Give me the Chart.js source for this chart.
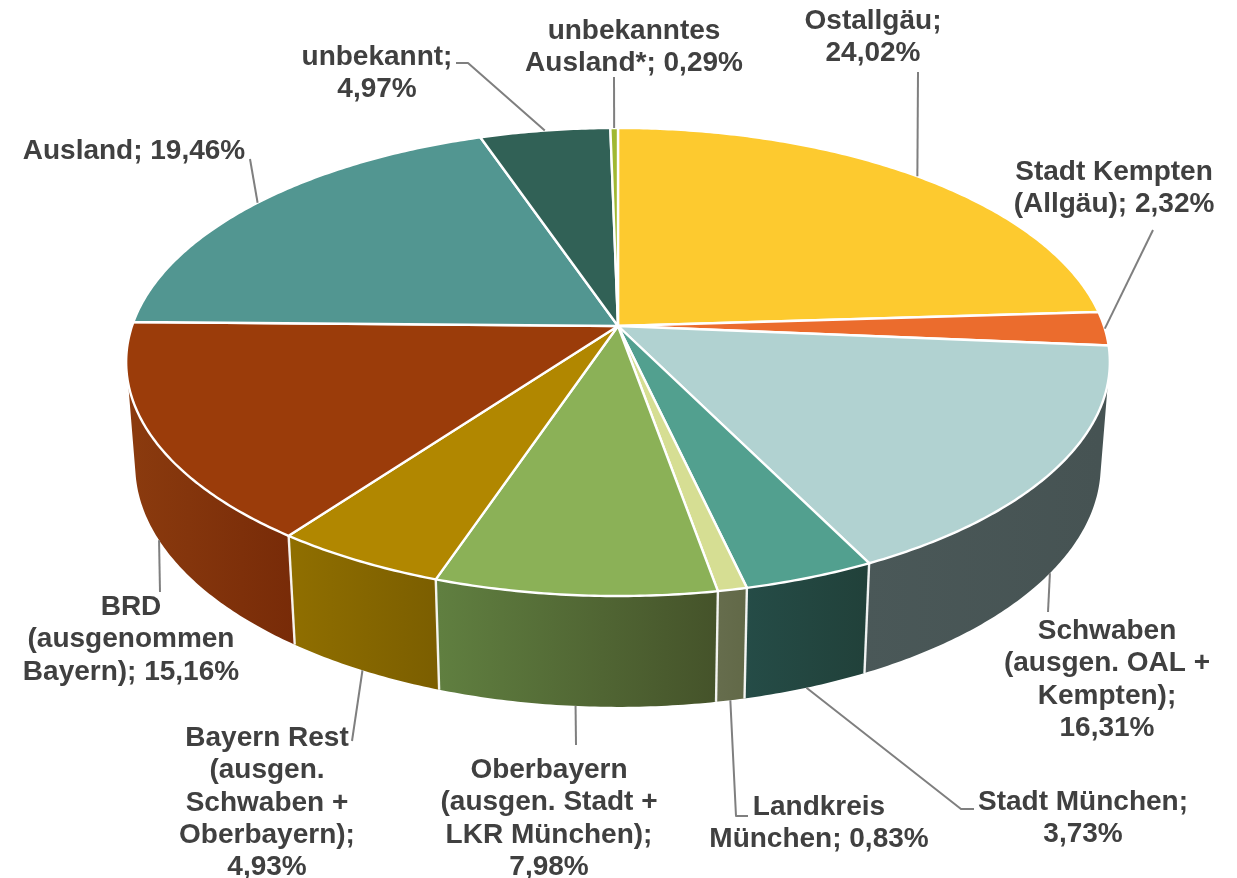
<!DOCTYPE html>
<html lang="de">
<head>
<meta charset="utf-8">
<title>Herkunft</title>
<script src="https://cdn.jsdelivr.net/npm/chart.js@4"></script>
<style>html,body{margin:0;padding:0;background:#fff}canvas{display:block}</style>
</head>
<body>
<canvas id="c" width="1237" height="878"></canvas>
<script>
const categories = ["Ostallgäu","Stadt Kempten (Allgäu)","Schwaben (ausgen. OAL + Kempten)","Stadt München","Landkreis München","Oberbayern (ausgen. Stadt + LKR München)","Bayern Rest (ausgen. Schwaben + Oberbayern)","BRD (ausgenommen Bayern)","Ausland","unbekannt","unbekanntes Ausland*"];
const shares = [24.02,2.32,16.31,3.73,0.83,7.98,4.93,15.16,19.46,4.97,0.29];
const labelLines = [
  ["Ostallgäu;","%"],
  ["Stadt Kempten","(Allgäu); %"],
  ["Schwaben","(ausgen. OAL +","Kempten);","%"],
  ["Stadt München;","%"],
  ["Landkreis","München; %"],
  ["Oberbayern","(ausgen. Stadt +","LKR München);","%"],
  ["Bayern Rest","(ausgen.","Schwaben +","Oberbayern);","%"],
  ["BRD","(ausgenommen","Bayern); %"],
  ["Ausland; %"],
  ["unbekannt;","%"],
  ["unbekanntes","Ausland*; %"]
];
const topColors = ["#FDCA2F","#EB6C2D","#B1D2D1","#52A08F","#D6DE93","#8BB157","#B18700","#9B3C0A","#529691","#316156","#A0B832"];
const wallFrom = ["#B8931F","#A84C1F","#4A5858","#254C47","#666D4D","#607F40","#8F6E00","#8A3A0E","#3A6B68","#23463E","#73852A"];
const wallTo   = ["#B8931F","#A84C1F","#465353","#21413A","#626948","#45532A","#7B5E00","#782B08","#3A6B68","#23463E","#73852A"];

const layoutLabels = [
  {x:873,y:21.5},{x:1114,y:172.5},{x:1107,y:631.5},{x:1083,y:802.5},{x:819,y:807.5},{x:549,y:770.5},
  {x:267,y:738.5},{x:131,y:607.5},{x:134,y:151.5},{x:377,y:57.5},{x:634,y:31.5}
];
const lineStep = 32.2;
const leaderElbows = [
  [[918,72]],
  [[1153,230]],
  [[1048,612]],
  [[961,809],[974,809]],
  [[736,816],[748,816]],
  [[576,745]],
  [[352,741]],
  [[160,592]],
  [[250,159]],
  [[468,63],[456,63]],
  [[614,77]]
];
const P = {cx:618, cy:326, a:486, b:228.5, k:-0.1538, a2:477, y2:428, b2:236, tangentTop:0.24, tangentBottom:0.2};

function project(theta, bottom){
  const u = Math.cos(theta), v = Math.sin(theta), w = 1 + P.k*v;
  return bottom ? [P.cx + P.a2*u/w, P.y2 + P.b2*v/w] : [P.cx + P.a*u/w, P.cy + P.b*v/w];
}
function arcPoints(s, e, bottom){
  if (e <= s) return [];
  const n = Math.max(2, Math.ceil((e-s)/0.01)), pts = [];
  for(let i=0;i<=n;i++) pts.push(project(s+(e-s)*i/n, bottom));
  return pts;
}
function trace(ctx, pts){ ctx.beginPath(); pts.forEach((p,i)=> i?ctx.lineTo(p[0],p[1]):ctx.moveTo(p[0],p[1])); }
// restrict an arc to the front part of the rim, between its two silhouette tangent points
function frontClamp(s, e, vMin){
  const a0 = Math.asin(vMin), a1 = Math.PI - a0;
  return [Math.max(s,a0), Math.min(e,a1)];
}

const perspectivePie = {
  id:'perspectivePie',
  beforeDatasetsDraw(chart){
    const ctx = chart.ctx, arcs = chart.getDatasetMeta(0).data;
    ctx.save();
    // walls
    arcs.forEach((arc,i)=>{
      const {startAngle:s,endAngle:e} = arc.getProps(['startAngle','endAngle'],true);
      const [ts,te] = frontClamp(s,e,P.tangentTop), [bs,be] = frontClamp(s,e,P.tangentBottom);
      if (be <= bs) return;
      const t = arcPoints(ts,te,false), b = arcPoints(bs,be,true);
      if (!t.length) t.push(project(Math.min(Math.max(s,Math.asin(P.tangentTop)),Math.PI-Math.asin(P.tangentTop)),false));
      const xs = arcPoints(s,e,true).map(p=>p[0]);
      const g = ctx.createLinearGradient(Math.min(...xs),0,Math.max(...xs),0);
      g.addColorStop(0,wallFrom[i]); g.addColorStop(1,wallTo[i]);
      trace(ctx,t.concat(b.reverse())); ctx.closePath();
      ctx.fillStyle = g; ctx.fill();
    });
    // seams
    ctx.strokeStyle = 'rgba(255,255,255,0.92)'; ctx.lineWidth = 2.4;
    arcs.forEach(arc=>{
      const {startAngle:s} = arc.getProps(['startAngle'],true);
      if (Math.sin(s)<0.3) return;
      trace(ctx,[project(s,false),project(s,true)]); ctx.stroke();
    });
    // tops
    ctx.lineJoin = 'round';
    arcs.forEach((arc,i)=>{
      const {startAngle:s,endAngle:e} = arc.getProps(['startAngle','endAngle'],true);
      trace(ctx,[[P.cx,P.cy]].concat(arcPoints(s,e,false))); ctx.closePath();
      ctx.fillStyle = topColors[i]; ctx.fill();
      ctx.strokeStyle = '#fff'; ctx.lineWidth = 2.4; ctx.stroke();
    });
    // leaders
    ctx.strokeStyle = '#7F7F7F'; ctx.lineWidth = 2;
    arcs.forEach((arc,i)=>{
      const {startAngle:s,endAngle:e} = arc.getProps(['startAngle','endAngle'],true);
      const mid = (s+e)/2;
      trace(ctx,[project(mid,Math.sin(mid)>0.3)].concat(leaderElbows[i])); ctx.stroke();
    });
    // labels
    ctx.fillStyle = '#404040';
    ctx.font = 'bold 28px "Liberation Sans", Arial, sans-serif';
    ctx.textAlign = 'center'; ctx.textBaseline = 'middle';
    labelLines.forEach((lines,i)=>{
      const val = shares[i].toFixed(2).replace('.',',')+'%';
      lines.forEach((ln,j)=>ctx.fillText(ln.replace('%',val),layoutLabels[i].x,layoutLabels[i].y+j*lineStep));
    });
    ctx.restore();
    return false;
  }
};

new Chart(document.getElementById('c'),{
  type:'pie',
  data:{labels:categories,datasets:[{data:shares,backgroundColor:topColors,borderColor:'#fff',borderWidth:2}]},
  options:{responsive:false,animation:false,devicePixelRatio:1,
    plugins:{legend:{display:false},tooltip:{enabled:false}}},
  plugins:[perspectivePie]
});
</script>
</body>
</html>
